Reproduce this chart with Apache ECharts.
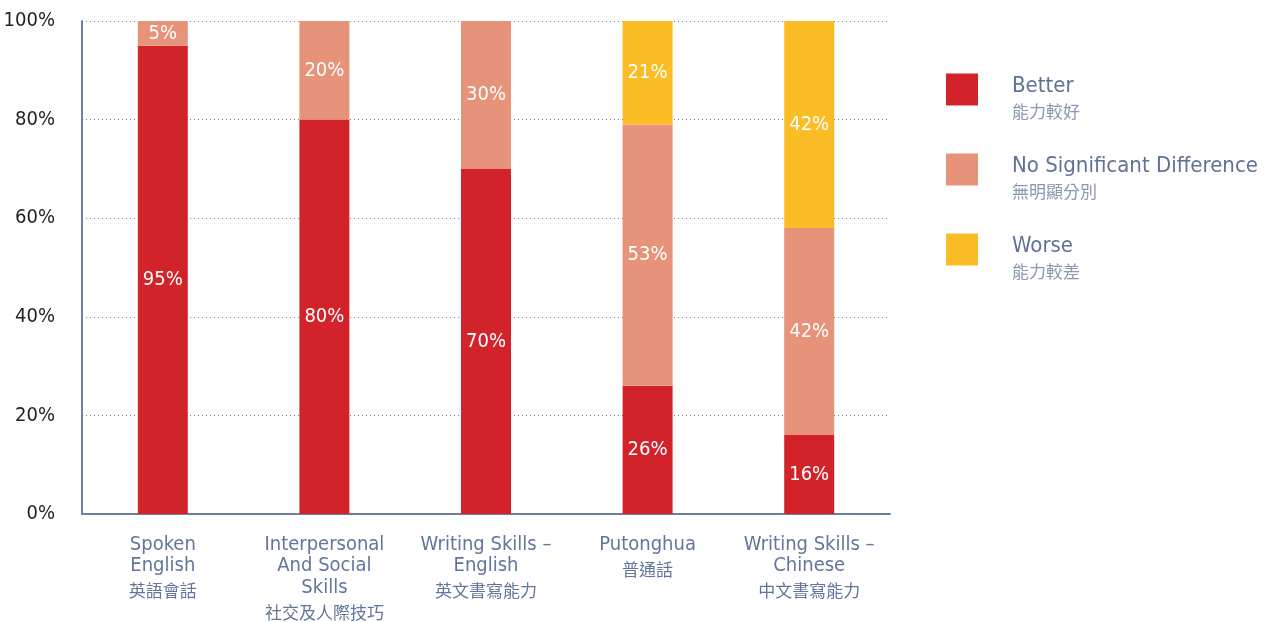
<!DOCTYPE html>
<html>
<head>
<meta charset="utf-8">
<script src="https://cdn.jsdelivr.net/npm/echarts@6/dist/echarts.min.js"></script>
<style>
  html, body { margin: 0; padding: 0; background: #ffffff; }
  #chart { width: 1265px; height: 622px; }
</style>
</head>
<body>
<div id="chart"></div>
<script>
// Categories: English lines and Chinese caption
const categoriesEn = [
  ['Spoken', 'English'],
  ['Interpersonal', 'And Social', 'Skills'],
  ['Writing Skills –', 'English'],
  ['Putonghua'],
  ['Writing Skills –', 'Chinese']
];
const categoriesZh = ['英語會話', '社交及人際技巧', '英文書寫能力', '普通話', '中文書寫能力'];

// Series (percent of respondents)
const seriesNames = ['Better', 'No Significant Difference', 'Worse'];
const seriesNamesZh = ['能力較好', '無明顯分別', '能力較差'];
const betterValues = [95, 80, 70, 26, 16];
const noDiffValues = [5, 20, 30, 53, 42];
const worseValues = [0, 0, 0, 21, 42];

// Y axis ticks
const yTicks = [0, 20, 40, 60, 80, 100];

const colors = ['#D2232A', '#E6937A', '#FBBD26'];
const axisColor = '#6E7FA0';
const labelColor = '#62759A';
const condensed = "'Liberation Sans Narrow', 'DejaVu Sans Condensed', 'Roboto', sans-serif";
const cjk = "'Noto Sans CJK TC', 'Noto Sans CJK SC', sans-serif";

const categoryKeys = categoriesEn.map((_, i) => String(i));

function makeSeries(name, values, color) {
  return {
    name: name,
    type: 'bar',
    stack: 'total',
    barWidth: 50,
    data: values,
    itemStyle: { color: color },
    label: {
      show: true,
      position: 'inside',
      color: '#ffffff',
      fontFamily: condensed,
      fontSize: 20,
      formatter: p => (p.value > 0 ? p.value + '%' : '')
    },
    emphasis: { disabled: true }
  };
}

const chart = echarts.init(document.getElementById('chart'), null, { renderer: 'canvas' });

chart.setOption({
  animation: false,
  backgroundColor: '#ffffff',
  grid: { left: 82, right: 375, top: 21, bottom: 108, containLabel: false },
  legend: {
    orient: 'vertical',
    left: 946,
    top: 73.5,
    padding: 0,
    itemWidth: 32,
    itemHeight: 32,
    itemGap: 33,
    icon: 'rect',
    selectedMode: false,
    data: seriesNames,
    formatter: name => {
      const i = seriesNames.indexOf(name);
      return '{en|' + name + '}\n{zh|' + seriesNamesZh[i] + '}';
    },
    textStyle: {
      rich: {
        en: { fontFamily: condensed, fontSize: 22, color: '#5F7195', lineHeight: 45, padding: [0, 0, 0, 29] },
        zh: { fontFamily: cjk, fontSize: 17, color: '#8A97B0', lineHeight: 6, padding: [0, 0, 0, 29] }
      }
    }
  },
  xAxis: {
    type: 'category',
    data: categoryKeys,
    axisLine: { show: true, lineStyle: { color: axisColor, width: 2 } },
    axisTick: { show: false },
    axisLabel: {
      margin: 20,
      interval: 0,
      formatter: v => {
        const i = Number(v);
        const en = categoriesEn[i].map(s => '{en|' + s + '}').join('\n');
        return en + '\n{zh|' + categoriesZh[i] + '}';
      },
      rich: {
        en: { fontFamily: condensed, fontSize: 20, color: labelColor, lineHeight: 21.5 },
        zh: { fontFamily: cjk, fontSize: 17, color: labelColor, lineHeight: 28 }
      }
    }
  },
  yAxis: {
    type: 'value',
    min: yTicks[0],
    max: yTicks[yTicks.length - 1],
    interval: yTicks[1] - yTicks[0],
    axisLine: { show: true, lineStyle: { color: axisColor, width: 2 } },
    axisTick: { show: false },
    axisLabel: {
      margin: 27,
      color: '#231F20',
      fontFamily: condensed,
      fontSize: 20,
      formatter: v => v + '%'
    },
    splitLine: { show: true, lineStyle: { color: axisColor, width: 1, type: [1, 3] } }
  },
  series: [
    makeSeries(seriesNames[0], betterValues, colors[0]),
    makeSeries(seriesNames[1], noDiffValues, colors[1]),
    makeSeries(seriesNames[2], worseValues, colors[2])
  ]
});
</script>
</body>
</html>
